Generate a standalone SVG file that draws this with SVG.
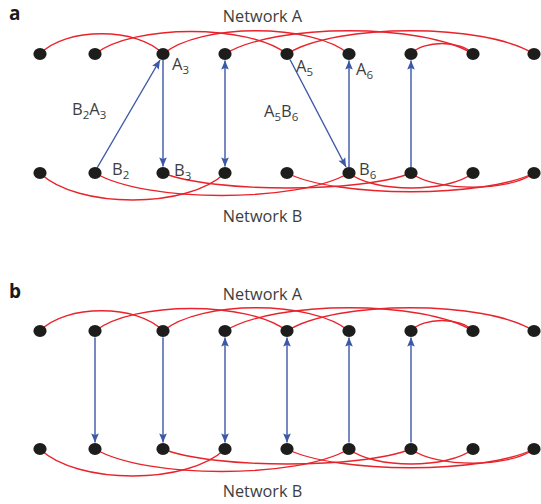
<svg xmlns="http://www.w3.org/2000/svg" width="541" height="504" viewBox="0 0 541 504">
<style>
.node{fill:#1d1d1b}
.red{fill:none;stroke:#e8232b;stroke-width:1.4}
.blue{fill:none;stroke:#3c58a8;stroke-width:1.4}
.one{marker-end:url(#ah)}
.two{marker-start:url(#ahs);marker-end:url(#ah)}
.lbl{font-family:"Open Sans","Noto Sans",sans-serif;font-size:16.5px;fill:#3d3d3d}
.sub{font-size:11.5px}
.net{font-family:"Open Sans","Noto Sans",sans-serif;font-size:16.3px;fill:#3d3d3d;text-anchor:middle}
.panel{font-family:"Open Sans","Liberation Sans",sans-serif;font-weight:bold;font-size:19px;fill:#1a1a1a}
</style>
<defs>
<marker id="ah" markerUnits="userSpaceOnUse" viewBox="0 0 12 10" markerWidth="12" markerHeight="10" refX="10" refY="5" orient="auto"><path d="M10,5 L1,1.2 L2.6,5 L1,8.8 Z" fill="#3c58a8"/></marker>
<marker id="ahs" markerUnits="userSpaceOnUse" viewBox="0 0 12 10" markerWidth="12" markerHeight="10" refX="10" refY="5" orient="auto-start-reverse"><path d="M10,5 L1,1.2 L2.6,5 L1,8.8 Z" fill="#3c58a8"/></marker>
</defs>

<text class="panel" x="9" y="20">a</text>
<text class="panel" x="9" y="298">b</text>
<text class="net" x="262.5" y="22">Network A</text>
<text class="net" x="262.5" y="222">Network B</text>
<text class="net" x="262.5" y="300">Network A</text>
<text class="net" x="262.5" y="497">Network B</text>

<g id="connectors">
  <g id="a-netA">
    <path class="red" d="M40,54 C65,27 138,27 163,54"/>
    <path class="red" d="M95,54 C133,24 249,24 287,54"/>
    <path class="red" d="M163,54 C200,23 312,23 349,54"/>
    <path class="red" d="M225,54 C275,23 423,23 473,54"/>
    <path class="red" d="M287,54 C336,23 485,23 534,54"/>
    <path class="red" d="M411,54 C423,40 461,40 473,54"/>
  </g>
  <g id="a-netB">
    <path class="red" d="M40,173 C77,209 188,209 225,173"/>
    <path class="red" d="M95,173 C146,203 298,203 349,173"/>
    <path class="red" d="M163,173 C213,193 361,193 411,173"/>
    <path class="red" d="M287,173 C336,198 485,198 534,173"/>
    <path class="red" d="M349,173 C374,193 448,193 473,173"/>
    <path class="red" d="M411,173 C436,192 509,192 534,173"/>
  </g>
  <g id="b-netA" transform="translate(0,277)">
    <path class="red" d="M40,54 C65,27 138,27 163,54"/>
    <path class="red" d="M95,54 C133,24 249,24 287,54"/>
    <path class="red" d="M163,54 C200,23 312,23 349,54"/>
    <path class="red" d="M225,54 C275,23 423,23 473,54"/>
    <path class="red" d="M287,54 C336,23 485,23 534,54"/>
    <path class="red" d="M411,54 C423,40 461,40 473,54"/>
  </g>
  <g id="b-netB" transform="translate(0,276)">
    <path class="red" d="M40,173 C77,209 188,209 225,173"/>
    <path class="red" d="M95,173 C146,203 298,203 349,173"/>
    <path class="red" d="M163,173 C213,193 361,193 411,173"/>
    <path class="red" d="M287,173 C336,198 485,198 534,173"/>
    <path class="red" d="M349,173 C374,193 448,193 473,173"/>
    <path class="red" d="M411,173 C436,192 509,192 534,173"/>
  </g>
  <g id="a-links">
    <path class="blue one" d="M97,168 L160,60"/>
    <path class="blue one" d="M163,60 L163,166.5"/>
    <path class="blue two" d="M225,60.5 L225,166.5"/>
    <path class="blue one" d="M290,59.5 L346,167"/>
    <path class="blue one" d="M349,167 L349,60.5"/>
    <path class="blue one" d="M411,167 L411,60.5"/>
    <text class="lbl" x="72" y="115">B<tspan class="sub" dy="4">2</tspan><tspan dy="-4">A</tspan><tspan class="sub" dy="4">3</tspan></text>
    <text class="lbl" x="264" y="117">A<tspan class="sub" dy="4">5</tspan><tspan dy="-4">B</tspan><tspan class="sub" dy="4">6</tspan></text>
  </g>
  <g id="b-links">
    <path class="blue one" d="M95,337.5 L95,442.5"/>
    <path class="blue one" d="M163,337.5 L163,442.5"/>
    <path class="blue two" d="M225,337.5 L225,442.5"/>
    <path class="blue two" d="M287,337.5 L287,442.5"/>
    <path class="blue one" d="M349,442.5 L349,337.5"/>
    <path class="blue one" d="M411,442.5 L411,337.5"/>
  </g>
</g>

<g id="a-A1"><ellipse class="node" cx="40" cy="54" rx="6.6" ry="6"/></g>
<g id="a-A2"><ellipse class="node" cx="95" cy="54" rx="6.6" ry="6"/></g>
<g id="a-A3"><ellipse class="node" cx="163" cy="54" rx="6.6" ry="6"/><text class="lbl" x="172" y="70">A<tspan class="sub" dy="4">3</tspan></text></g>
<g id="a-A4"><ellipse class="node" cx="225" cy="54" rx="6.6" ry="6"/></g>
<g id="a-A5"><ellipse class="node" cx="287" cy="54" rx="6.6" ry="6"/><text class="lbl" x="296" y="72">A<tspan class="sub" dy="4">5</tspan></text></g>
<g id="a-A6"><ellipse class="node" cx="349" cy="54" rx="6.6" ry="6"/><text class="lbl" x="356" y="75">A<tspan class="sub" dy="4">6</tspan></text></g>
<g id="a-A7"><ellipse class="node" cx="411" cy="54" rx="6.6" ry="6"/></g>
<g id="a-A8"><ellipse class="node" cx="473" cy="54" rx="6.6" ry="6"/></g>
<g id="a-A9"><ellipse class="node" cx="534" cy="54" rx="6.6" ry="6"/></g>

<g id="a-B1"><ellipse class="node" cx="40" cy="173" rx="6.6" ry="6"/></g>
<g id="a-B2"><ellipse class="node" cx="95" cy="173" rx="6.6" ry="6"/><text class="lbl" x="112" y="175">B<tspan class="sub" dy="4">2</tspan></text></g>
<g id="a-B3"><ellipse class="node" cx="163" cy="173" rx="6.6" ry="6"/><text class="lbl" x="174" y="176">B<tspan class="sub" dy="4">3</tspan></text></g>
<g id="a-B4"><ellipse class="node" cx="225" cy="173" rx="6.6" ry="6"/></g>
<g id="a-B5"><ellipse class="node" cx="287" cy="173" rx="6.6" ry="6"/></g>
<g id="a-B6"><ellipse class="node" cx="349" cy="173" rx="6.6" ry="6"/><text class="lbl" x="359" y="175">B<tspan class="sub" dy="4">6</tspan></text></g>
<g id="a-B7"><ellipse class="node" cx="411" cy="173" rx="6.6" ry="6"/></g>
<g id="a-B8"><ellipse class="node" cx="473" cy="173" rx="6.6" ry="6"/></g>
<g id="a-B9"><ellipse class="node" cx="534" cy="173" rx="6.6" ry="6"/></g>

<g id="b-A1"><ellipse class="node" cx="40" cy="331" rx="6.6" ry="6"/></g>
<g id="b-A2"><ellipse class="node" cx="95" cy="331" rx="6.6" ry="6"/></g>
<g id="b-A3"><ellipse class="node" cx="163" cy="331" rx="6.6" ry="6"/></g>
<g id="b-A4"><ellipse class="node" cx="225" cy="331" rx="6.6" ry="6"/></g>
<g id="b-A5"><ellipse class="node" cx="287" cy="331" rx="6.6" ry="6"/></g>
<g id="b-A6"><ellipse class="node" cx="349" cy="331" rx="6.6" ry="6"/></g>
<g id="b-A7"><ellipse class="node" cx="411" cy="331" rx="6.6" ry="6"/></g>
<g id="b-A8"><ellipse class="node" cx="473" cy="331" rx="6.6" ry="6"/></g>
<g id="b-A9"><ellipse class="node" cx="534" cy="331" rx="6.6" ry="6"/></g>

<g id="b-B1"><ellipse class="node" cx="40" cy="449" rx="6.6" ry="6"/></g>
<g id="b-B2"><ellipse class="node" cx="95" cy="449" rx="6.6" ry="6"/></g>
<g id="b-B3"><ellipse class="node" cx="163" cy="449" rx="6.6" ry="6"/></g>
<g id="b-B4"><ellipse class="node" cx="225" cy="449" rx="6.6" ry="6"/></g>
<g id="b-B5"><ellipse class="node" cx="287" cy="449" rx="6.6" ry="6"/></g>
<g id="b-B6"><ellipse class="node" cx="349" cy="449" rx="6.6" ry="6"/></g>
<g id="b-B7"><ellipse class="node" cx="411" cy="449" rx="6.6" ry="6"/></g>
<g id="b-B8"><ellipse class="node" cx="473" cy="449" rx="6.6" ry="6"/></g>
<g id="b-B9"><ellipse class="node" cx="534" cy="449" rx="6.6" ry="6"/></g>
</svg>
